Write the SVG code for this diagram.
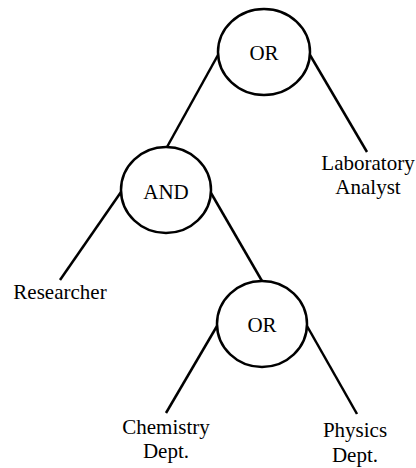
<svg xmlns="http://www.w3.org/2000/svg" width="416" height="468" viewBox="0 0 416 468">
  <style>
    .gate { fill: #ffffff; stroke: #000000; stroke-width: 2.5; }
    .edge { stroke: #000000; stroke-width: 2.5; stroke-linecap: butt; fill: none; }
    .lbl { font-family: "Liberation Serif", "Times New Roman", serif; font-size: 21px; fill: #000000; text-anchor: middle; }
  </style>
  <rect width="416" height="468" fill="#ffffff"/>

  <!-- connectors between gates and leaves -->
  <g id="connectors">
    <line class="edge" x1="218" y1="55" x2="167" y2="147"/>
    <line class="edge" x1="310" y1="55" x2="367" y2="152"/>
    <line class="edge" x1="121" y1="192" x2="60" y2="280"/>
    <line class="edge" x1="211" y1="193" x2="262" y2="281"/>
    <line class="edge" x1="217" y1="326" x2="166" y2="413"/>
    <line class="edge" x1="307" y1="326" x2="357" y2="414"/>
  </g>

  <!-- gates -->
  <g id="or-top">
    <ellipse class="gate" cx="264" cy="52" rx="46" ry="43"/>
    <text class="lbl" x="264" y="60">OR</text>
  </g>
  <g id="and-gate">
    <ellipse class="gate" cx="166" cy="190" rx="45" ry="43"/>
    <text class="lbl" x="166" y="199">AND</text>
  </g>
  <g id="or-bottom">
    <ellipse class="gate" cx="262" cy="324" rx="45" ry="43"/>
    <text class="lbl" x="262" y="332">OR</text>
  </g>

  <!-- leaves -->
  <g id="lab-analyst">
    <text class="lbl" x="368" y="170">Laboratory</text>
    <text class="lbl" x="368" y="194">Analyst</text>
  </g>
  <g id="researcher">
    <text class="lbl" x="60" y="299">Researcher</text>
  </g>
  <g id="chemistry">
    <text class="lbl" x="166" y="434">Chemistry</text>
    <text class="lbl" x="166" y="458">Dept.</text>
  </g>
  <g id="physics">
    <text class="lbl" x="355" y="437">Physics</text>
    <text class="lbl" x="355" y="462">Dept.</text>
  </g>
</svg>
